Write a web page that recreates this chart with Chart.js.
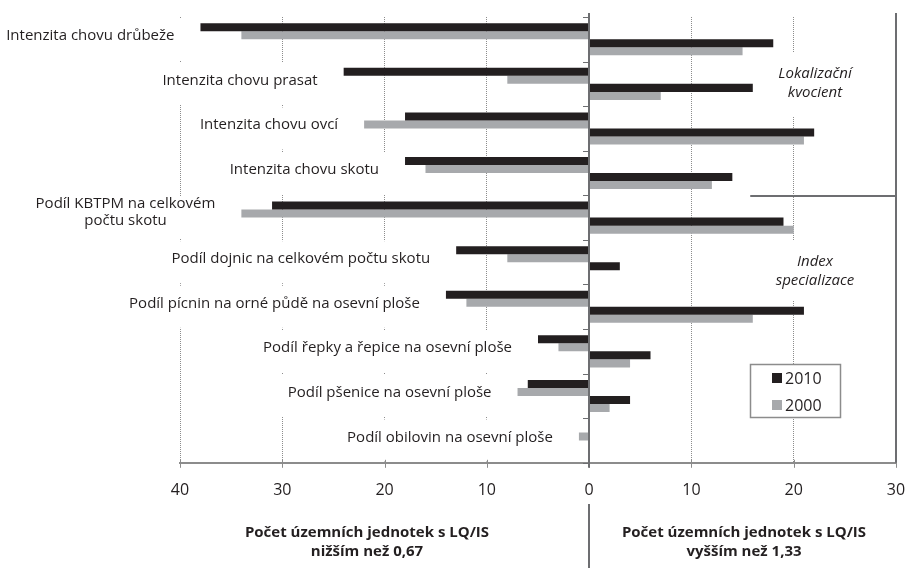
<!DOCTYPE html>
<html lang="cs">
<head>
<meta charset="utf-8">
<title>Počet územních jednotek s LQ/IS</title>
<script src="https://cdn.jsdelivr.net/npm/chart.js@4.4.1/dist/chart.umd.min.js"></script>
<style>
  html, body { margin: 0; padding: 0; background: #fff; }
  #wrap { width: 906px; height: 568px; }
</style>
</head>
<body>
<div id="wrap"><canvas id="lqChart" width="906" height="568"></canvas></div>
<script>
// Categories (top to bottom)
const categories = [
  'Intenzita chovu drůbeže',
  'Intenzita chovu prasat',
  'Intenzita chovu ovcí',
  'Intenzita chovu skotu',
  ['Podíl KBTPM na celkovém', 'počtu skotu'],
  'Podíl dojnic na celkovém počtu skotu',
  'Podíl pícnin na orné půdě na osevní ploše',
  'Podíl řepky a řepice na osevní ploše',
  'Podíl pšenice na osevní ploše',
  'Podíl obilovin na osevní ploše'
];
// units with LQ/IS lower than 0,67 (drawn to the left)
const low2010 = [38, 24, 18, 18, 31, 13, 14, 5, 6, 0];
const low2000 = [34, 8, 22, 16, 34, 8, 12, 3, 7, 1];
// units with LQ/IS higher than 1,33 (drawn to the right)
const high2010 = [18, 16, 22, 14, 19, 3, 21, 6, 4, 0];
const high2000 = [15, 7, 21, 12, 20, 0, 16, 4, 2, 0];
const years = ['2010', '2000'];
const xMin = -40, xMax = 30, xStep = 10;

const FONT = '"Open Sans", sans-serif';
const TEXT = '#231f20';
const DARK = '#231f20';
const GREY = '#a7a9ac';
const LINE = '#6d6e71';
const AXIS = '#8c8c8c';

// labels, notes, zero line, legend and bottom titles
const decorations = {
  id: 'decorations',
  beforeDatasetsDraw(chart) {
    const {ctx, scales: {x, y}} = chart;
    ctx.save();
    ctx.font = '15px ' + FONT;
    categories.forEach((cat, i) => {
      const lines = Array.isArray(cat) ? cat : [cat];
      const right = x.getPixelForValue(-Math.max(low2010[i], low2000[i])) - 26;
      const w = Math.max(...lines.map(l => ctx.measureText(l).width));
      const cy = y.getPixelForValue(i);
      ctx.fillStyle = '#fff';
      ctx.fillRect(right - w - 10, cy - 21, w + 20, 42);
      ctx.fillStyle = TEXT;
      ctx.textAlign = 'center';
      ctx.textBaseline = 'alphabetic';
      const base = cy + (lines.length > 1 ? -1 : 1);
      lines.forEach((l, k) => {
        ctx.fillText(l, right - w / 2, base + (k - (lines.length - 1) / 2) * 17);
      });
    });
    // white boxes behind the italic notes
    ctx.fillStyle = '#fff';
    ctx.fillRect(768, 52, 94, 64);
    ctx.fillRect(768, 240, 94, 60);
    ctx.restore();
  },
  afterDatasetsDraw(chart) {
    const {ctx, chartArea: {top, bottom}, scales: {x, y}} = chart;
    const x0 = Math.round(x.getPixelForValue(0));
    ctx.save();

    // short tick marks on the value axis
    ctx.strokeStyle = AXIS;
    ctx.lineWidth = 1;
    for (let v = xMin; v <= xMax; v += xStep) {
      const px = Math.round(x.getPixelForValue(v)) + 0.5;
      ctx.beginPath();
      ctx.moveTo(px, bottom - 3);
      ctx.lineTo(px, bottom + 5);
      ctx.stroke();
    }

    // category ticks on the zero axis
    ctx.strokeStyle = LINE;
    const n = categories.length;
    for (let i = 0; i <= n; i++) {
      const yb = Math.round(top + i * (bottom - top) / n) + 0.5;
      ctx.beginPath();
      ctx.moveTo(x0 - 6, yb);
      ctx.lineTo(x0, yb);
      ctx.stroke();
    }

    // zero line, also continued between the bottom titles
    ctx.lineWidth = 2;
    ctx.beginPath();
    ctx.moveTo(x0, top - 4);
    ctx.lineTo(x0, bottom + 5);
    ctx.moveTo(x0, 504);
    ctx.lineTo(x0, 568);
    ctx.stroke();

    // right frame and the separator between the two notes
    const xr = Math.round(x.getPixelForValue(xMax));
    const ySep = Math.round((y.getPixelForValue(3) + y.getPixelForValue(4)) / 2) + 1;
    ctx.beginPath();
    ctx.moveTo(xr, top - 4);
    ctx.lineTo(xr, bottom);
    ctx.moveTo(x.getPixelForValue(15.75), ySep);
    ctx.lineTo(xr, ySep);
    ctx.stroke();

    // italic notes
    ctx.fillStyle = TEXT;
    ctx.font = 'italic 15px ' + FONT;
    ctx.textAlign = 'center';
    ctx.textBaseline = 'alphabetic';
    ctx.fillText('Lokalizační', 815, 78);
    ctx.fillText('kvocient', 815, 97);
    ctx.fillText('Index', 815, 266);
    ctx.fillText('specializace', 815, 285);

    // legend
    ctx.fillStyle = '#fff';
    ctx.fillRect(750, 364, 91, 54);
    ctx.strokeStyle = AXIS;
    ctx.lineWidth = 1.5;
    ctx.strokeRect(750.5, 364.5, 90, 53);
    ctx.font = '16px ' + FONT;
    ctx.textAlign = 'left';
    [DARK, GREY].forEach((c, k) => {
      const ly = 373 + k * 27;
      ctx.fillStyle = c;
      ctx.fillRect(772, ly, 10, 10);
      ctx.fillStyle = TEXT;
      ctx.fillText(years[k], 785, ly + 11);
    });

    // bottom titles
    ctx.font = 'bold 15px ' + FONT;
    ctx.textAlign = 'center';
    ctx.fillText('Počet územních jednotek s LQ/IS', 367, 537);
    ctx.fillText('nižším než 0,67', 367, 556);
    ctx.fillText('Počet územních jednotek s LQ/IS', 744, 537);
    ctx.fillText('vyšším než 1,33', 744, 556);
    ctx.restore();
  }
};

const lqChart = new Chart(document.getElementById('lqChart'), {
  type: 'bar',
  data: {
    labels: categories,
    datasets: [
      { label: years[0], data: low2010.map(v => -v), backgroundColor: DARK },
      { label: years[1], data: low2000.map(v => -v), backgroundColor: GREY },
      { label: years[0], data: high2010, backgroundColor: DARK },
      { label: years[1], data: high2000, backgroundColor: GREY }
    ]
  },
  options: {
    indexAxis: 'y',
    responsive: false,
    animation: false,
    categoryPercentage: 0.72,
    barPercentage: 1.0,
    layout: { padding: { left: 180, top: 17, right: 10, bottom: 68 } },
    plugins: {
      legend: { display: false },
      tooltip: { enabled: false }
    },
    scales: {
      x: {
        min: xMin,
        max: xMax,
        ticks: {
          stepSize: xStep,
          color: TEXT,
          padding: 0,
          font: { family: FONT, size: 16 },
          callback: v => Math.abs(v)
        },
        grid: {
          color: c => (c.tick && (c.tick.value === 0 || c.tick.value === xMax)) ? 'rgba(0,0,0,0)' : AXIS,
          lineWidth: 1,
          tickColor: 'rgba(0,0,0,0)',
          tickLength: 18
        },
        border: { display: true, color: AXIS, width: 2, dash: [1, 1] }
      },
      y: {
        display: false
      }
    }
  },
  plugins: [decorations]
});
</script>
</body>
</html>
